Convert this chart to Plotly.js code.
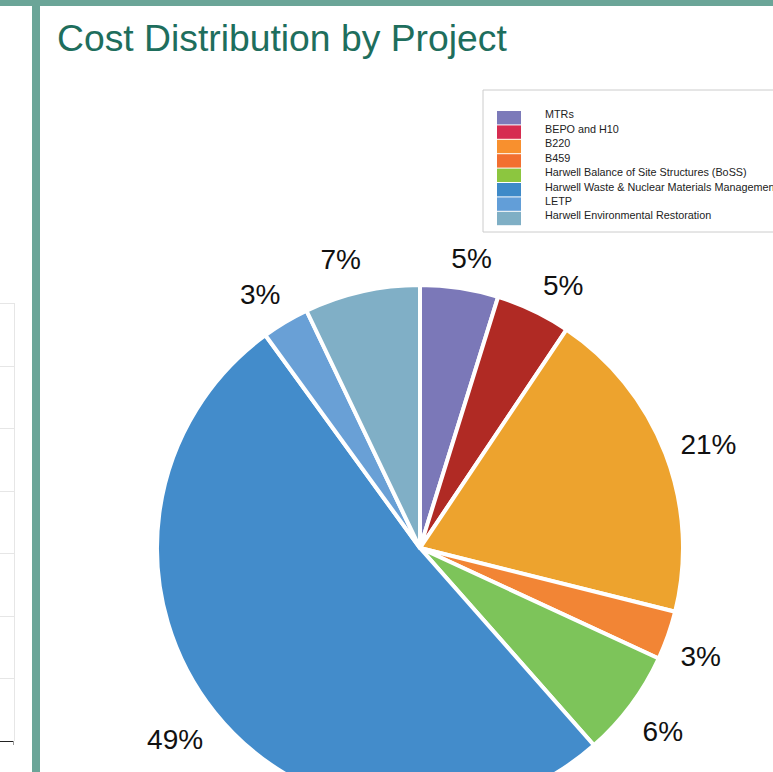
<!DOCTYPE html>
<html>
<head>
<meta charset="utf-8">
<script src="https://cdn.plot.ly/plotly-3.0.1.min.js"></script>
<style>
html,body{margin:0;padding:0;overflow:hidden;background:#fff;width:773px;height:772px;}
#wrap{position:relative;width:773px;height:772px;overflow:hidden;}
.topbar{position:absolute;left:0;top:0;width:773px;height:6px;background:#6ba598;}
.vbar{position:absolute;left:32px;top:0;width:8px;height:772px;background:#6ba598;}
.tbl{position:absolute;left:-10px;top:303px;width:24px;height:438px;border-right:1px solid #e6e6e6;}
.row{position:absolute;left:0;width:24px;border-top:1px solid #e6e6e6;}
.base{position:absolute;left:0;top:741px;width:14px;border-top:1px solid #222;}
.tick{position:absolute;left:13px;top:741px;width:1px;height:4px;background:#999;}
#chart{position:absolute;left:0;top:0;width:773px;height:840px;}
</style>
</head>
<body>
<div id="wrap">
  <div class="topbar"></div>
  <div class="vbar"></div>
  <div class="tbl" id="tbl"></div>
  <div class="base"></div>
  <div class="tick"></div>
  <div id="chart"></div>
</div>
<script>
// ---- data ----
const labels = [
  "MTRs",
  "BEPO and H10",
  "B220",
  "B459",
  "Harwell Balance of Site Structures (BoSS)",
  "Harwell Waste & Nuclear Materials Management",
  "LETP",
  "Harwell Environmental Restoration"
];
// slice sizes as drawn (percent of the circle)
const values = [4.8, 4.6, 19.5, 3.0, 6.6, 51.5, 2.9, 7.1];
// percentage labels as printed on the chart
const pctLabels = ["5%", "5%", "21%", "3%", "6%", "49%", "3%", "7%"];
const sliceColors = ["#7b78b8", "#b02a24", "#eda32e", "#f28535", "#7dc45a", "#438ccb", "#69a0d6", "#80afc6"];
const legendColors = ["#7c7ab9", "#d62c50", "#f8902e", "#f26f30", "#8cc63f", "#3e8ac8", "#629ed8", "#7fafc5"];
const titleText = "Cost Distribution by Project";

// ---- decorative side table rows ----
const rowTops = [0, 62.5, 125, 187.5, 250, 312.5, 375];
const tbl = document.getElementById('tbl');
rowTops.forEach(t => { const d = document.createElement('div'); d.className = 'row'; d.style.top = t + 'px'; tbl.appendChild(d); });

// ---- layout helpers ----
const W = 773, H = 840;
const px = x => x / W;
const py = y => 1 - y / H;
const FONT = '"Liberation Sans", Arial, Helvetica, sans-serif';
const CX = 420, CY = 548, R = 263;

const shapes = [];
const annotations = [];
// legend box
shapes.push({type: 'rect', xref: 'paper', yref: 'paper', x0: px(483), x1: px(800), y0: py(90), y1: py(232),
  line: {color: '#cccccc', width: 1}, fillcolor: 'rgba(0,0,0,0)'});
const legTop = 111, legH = 14.4;
labels.forEach((lab, i) => {
  shapes.push({type: 'rect', xref: 'paper', yref: 'paper',
    x0: px(497), x1: px(521), y0: py(legTop + i * legH), y1: py(legTop + (i + 1) * legH - 1),
    line: {width: 0}, fillcolor: legendColors[i]});
  annotations.push({xref: 'paper', yref: 'paper', x: px(543), y: py(legTop + 3.5 + i * legH),
    xanchor: 'left', yanchor: 'middle', text: lab, showarrow: false,
    font: {family: FONT, size: 10.8, color: '#222'}});
});

const transparent = labels.map(() => 'rgba(0,0,0,0)');
const textFont = {family: FONT, size: 28, color: '#111111'};

const pieTrace = {
  type: 'pie', labels: labels, values: values,
  sort: false, direction: 'clockwise', rotation: 0,
  marker: {colors: sliceColors, line: {color: '#ffffff', width: 4}},
  textinfo: 'none', hoverinfo: 'skip', showlegend: false,
  domain: {x: [px(CX - R), px(CX + R)], y: [py(CY + R), py(CY - R)]}
};

// transparent label rings carry the printed percentages (outside text of each slice)
function labelTrace(idx, dx, dy, rl) {
  const cx = CX + dx, cy = CY + dy;
  return {
    type: 'pie', labels: labels, values: values,
    sort: false, direction: 'clockwise', rotation: 0,
    marker: {colors: transparent, line: {width: 0}},
    text: pctLabels, texttemplate: '%{text}',
    textposition: labels.map((_, i) => idx.includes(i) ? 'outside' : 'none'),
    textfont: textFont, outsidetextfont: textFont,
    hoverinfo: 'skip', showlegend: false,
    domain: {x: [px(cx - rl), px(cx + rl)], y: [py(cy + rl), py(cy - rl)]}
  };
}

const layout = {
  width: W, height: H,
  margin: {l: 0, r: 0, t: 0, b: 0},
  paper_bgcolor: 'rgba(0,0,0,0)',
  plot_bgcolor: 'rgba(0,0,0,0)',
  showlegend: false,
  title: {text: titleText, x: px(57), xanchor: 'left', xref: 'paper',
          y: 1 - 38 / H, yanchor: 'middle', yref: 'container',
          font: {family: FONT, size: 37.3, color: '#1e6e5d'}},
  shapes: shapes,
  annotations: annotations
};

Plotly.newPlot('chart', [
  pieTrace,
  labelTrace([0], -18, 0, 277),
  labelTrace([1, 2], -3, -3, 274),
  labelTrace([3, 4, 5], 0, 18, 268),
  labelTrace([6, 7], 10, -4, 277)
], layout, {displayModeBar: false, staticPlot: true});
</script>
</body>
</html>
